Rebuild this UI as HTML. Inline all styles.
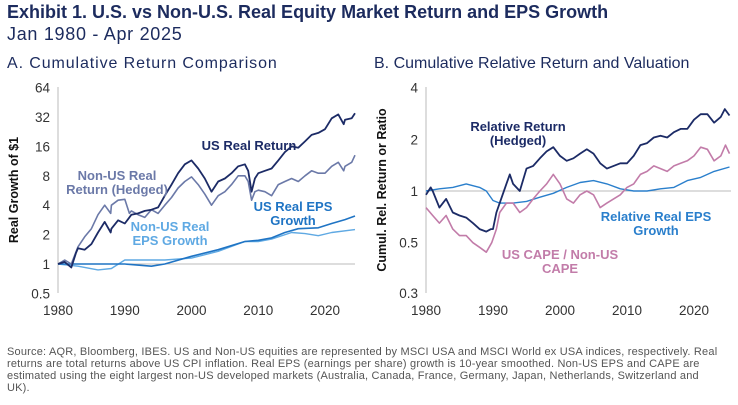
<!DOCTYPE html>
<html><head><meta charset="utf-8"><style>
body{margin:0;width:738px;height:405px;background:#fff;font-family:"Liberation Sans",sans-serif;overflow:hidden;position:relative}
.t{position:absolute;white-space:nowrap}
</style></head><body>
<div class="t" style="left:7px;top:2px;font-size:18px;font-weight:bold;color:#1c2b5e">Exhibit 1. U.S. vs Non-U.S. Real Equity Market Return and EPS Growth</div>
<div class="t" style="left:7px;top:24px;font-size:18px;letter-spacing:0.7px;color:#1c2b5e">Jan 1980 - Apr 2025</div>
<div class="t" style="left:7px;top:55px;font-size:16px;letter-spacing:0.9px;color:#1c2b5e">A. Cumulative Return Comparison</div>
<div class="t" style="left:374px;top:55px;font-size:16px;color:#1c2b5e">B. Cumulative Relative Return and Valuation</div>
<svg id="svg" width="738" height="340" style="position:absolute;left:0;top:0" font-family="Liberation Sans, sans-serif"></svg>
<div class="t" style="left:7px;top:346px;font-size:11px;letter-spacing:0.2px;line-height:12px;color:#555">Source: AQR, Bloomberg, IBES. US and Non-US equities are represented by MSCI USA and MSCI World ex USA indices, respectively. Real<br>returns are total returns above US CPI inflation. Real EPS (earnings per share) growth is 10-year smoothed. Non-US EPS and CAPE are<br>estimated using the eight largest non-US developed markets (Australia, Canada, France, Germany, Japan, Netherlands, Switzerland and<br>UK).</div>
<script>
const xTicks=[1980,1990,2000,2010,2020];
const leftTicks=[0.5,1,2,4,8,16,32,64];
const rightTicks=[0.3,0.5,1,2,4];
const usRetX=[1980,1981,1982,1982.7,1983,1984,1985,1986,1987,1987.9,1988,1989,1990,1991,1992,1993,1994,1995,1996,1997,1998,1999,2000,2001,2002,2003,2004,2005,2006,2007,2008,2008.5,2009,2009.5,2010,2011,2012,2013,2014,2015,2016,2017,2018,2019,2020,2021,2022,2022.8,2023,2024,2024.5];
const usRetY=[1.0,1.05,0.92,1.3,1.45,1.4,1.6,2.1,2.7,2.1,2.3,2.8,2.6,3.2,3.3,3.5,3.6,3.8,5,6.5,8.5,10.5,11.5,9.5,7.5,5.5,7,7.5,8.5,10,10.5,9,5.5,7.5,8.5,9,9.5,11.5,14,16,15.5,18,21,22,24,31,34,27,30,31,35];
const nuRetX=[1980,1981,1982,1983,1984,1985,1986,1987,1987.9,1988,1989,1990,1990.7,1991,1992,1993,1994,1995,1996,1997,1998,1999,2000,2001,2002,2003,2004,2005,2006,2007,2008,2008.5,2009,2009.5,2010,2011,2012,2013,2014,2015,2016,2017,2018,2019,2020,2021,2022,2022.8,2023,2024,2024.5];
const nuRetY=[1.0,1.1,1.0,1.5,1.9,2.3,3.2,4.0,3.3,4.0,4.5,4.6,3.3,3.5,3.2,3.0,3.6,3.3,4.0,4.8,6,7,7.8,6.5,5.2,4.0,5,5.5,6.5,8,8,7,4.5,5.5,5.7,5.5,5,6.5,7,7.5,7,8,9,8.5,8.5,10,11,9,10,11,13];
const usEpsX=[1980,1985,1990,1994,1996,2000,2004,2008,2010,2012,2014,2016,2019,2021,2023,2024.5];
const usEpsY=[1.0,1.0,1.0,0.95,1.0,1.2,1.4,1.7,1.75,1.85,2.1,2.3,2.35,2.6,2.85,3.1];
const nuEpsX=[1980,1983,1986,1988,1990,1993,1996,2000,2004,2008,2010,2012,2015,2017,2019,2021,2024.5];
const nuEpsY=[1.0,0.95,0.87,0.9,1.1,1.1,1.1,1.15,1.35,1.7,1.7,1.8,2.1,2.05,1.95,2.1,2.25];
const relRetX=[1980,1980.7,1981,1982,1983,1984,1985,1986,1987,1988,1989,1989.7,1990,1990.5,1991,1992,1992.5,1993,1994,1995,1996,1997,1998,1999,2000,2001,2002,2003,2004,2005,2006,2007,2008,2009,2010,2011,2012,2013,2014,2015,2016,2017,2018,2019,2020,2021,2022,2023,2024,2024.6,2025.3];
const relRetY=[0.95,1.05,1.0,0.8,0.9,0.75,0.72,0.7,0.65,0.6,0.58,0.6,0.6,0.75,0.85,1.1,1.25,1.1,1.0,1.35,1.4,1.55,1.7,1.8,1.6,1.5,1.55,1.65,1.75,1.65,1.45,1.35,1.4,1.45,1.45,1.6,1.85,1.9,2.05,2.1,2.05,2.2,2.3,2.3,2.6,2.8,2.8,2.5,2.7,3.0,2.75];
const relEpsX=[1980,1982,1984,1986,1988,1989,1990,1991,1993,1995,1997,1999,2001,2003,2005,2007,2009,2011,2013,2015,2017,2019,2021,2023,2025.3];
const relEpsY=[1.0,1.03,1.05,1.1,1.05,1.0,0.88,0.85,0.85,0.87,0.92,0.97,1.05,1.12,1.15,1.1,1.03,1.0,1.0,1.03,1.05,1.15,1.2,1.3,1.38];
const capeX=[1980,1981,1982,1983,1984,1985,1986,1987,1988,1989,1989.8,1990.5,1991,1992,1993,1994,1995,1996,1997,1998,1999,2000,2001,2002,2003,2004,2005,2006,2007,2008,2009,2010,2011,2012,2013,2014,2015,2016,2017,2018,2019,2020,2021,2022,2023,2024,2024.7,2025.3];
const capeY=[0.8,0.72,0.65,0.72,0.6,0.55,0.55,0.5,0.47,0.44,0.5,0.6,0.75,0.85,0.85,0.75,0.8,0.9,1.0,1.1,1.25,1.1,0.9,0.85,0.95,1.0,0.95,0.8,0.85,0.9,0.95,1.05,1.1,1.25,1.3,1.4,1.35,1.3,1.4,1.45,1.5,1.6,1.8,1.75,1.5,1.6,1.85,1.65];

const svg=document.getElementById('svg');const NS='http://www.w3.org/2000/svg';
function mk(tag,attrs,name,txt){const e=document.createElementNS(NS,tag);for(const k in attrs)e.setAttribute(k,attrs[k]);


if(txt!==undefined)e.textContent=txt;svg.appendChild(e);return e;}
const L={x0:58,x1:355,y1:264,pd:29.4,xl:(v)=>58+(v-1980)*6.675};
const R={x0:426,x1:731,y1:191,pd:51.7,xl:(v)=>426+(v-1980)*6.7};
function ly(P,v){return P.y1-Math.log2(v)*P.pd;}
function axes(P,ticks,bottom,panel){
  mk('line',{x1:P.x0,y1:87,x2:P.x0,y2:bottom,stroke:'#bbb','stroke-width':1},panel+'-y-axis');
  mk('line',{x1:P.x0,y1:ly(P,1),x2:P.x1,y2:ly(P,1),stroke:'#bbb','stroke-width':1},panel+'-baseline');
  ticks.forEach(t=>{const y=(P===R&&t===0.3)?bottom:ly(P,t);
    mk('text',{x:P.x0-8,y:y+5,'text-anchor':'end','font-size':13.5,fill:'#333'},panel+'-y-tick-'+t,String(t));});
  xTicks.forEach(t=>{mk('text',{x:P.xl(t),y:bottom+22,'text-anchor':'middle','font-size':13.5,fill:'#333'},panel+'-x-tick-'+t,String(t));});
}
function line(P,xs,ys,color,name,w){let d='';xs.forEach((x,i)=>{d+=(i?'L':'M')+P.xl(x).toFixed(1)+','+ly(P,ys[i]).toFixed(1);});
  mk('path',{d:d,fill:'none',stroke:color,'stroke-width':w||1.6,'stroke-linejoin':'round'},name);}
axes(L,leftTicks,293,'left');axes(R,rightTicks,293,'right');
line(L,nuEpsX,nuEpsY,'#5fa9e3','non-us-eps-line',1.4);
line(L,usEpsX,usEpsY,'#1f74c4','us-eps-line',1.6);
line(L,nuRetX,nuRetY,'#6b79a8','non-us-return-line',1.6);
line(L,usRetX,usRetY,'#1c2b66','us-return-line',1.8);
line(R,relEpsX,relEpsY,'#2a7fcc','relative-eps-line',1.4);
line(R,capeX,capeY,'#c27ca9','cape-ratio-line',1.6);
line(R,relRetX,relRetY,'#1c2b66','relative-return-line',1.8);
function lab(x,y,lines,color,name,anchor){lines.forEach((s,i)=>mk('text',{x:x,y:y+i*14,'text-anchor':anchor||'middle','font-size':13,'font-weight':'bold',fill:color},name+(i?'-2':''),s));}
mk('text',{x:18,y:190,'text-anchor':'middle','font-size':12.5,'font-weight':'bold',fill:'#111',transform:'rotate(-90 18 190)'},'left-y-axis-title','Real Growth of $1');
mk('text',{x:386,y:190,'text-anchor':'middle','font-size':12.5,'font-weight':'bold',fill:'#111',transform:'rotate(-90 386 190)'},'right-y-axis-title','Cumul. Rel. Return or Ratio');
lab(249,150,['US Real Return'],'#1c2b66','us-return-label');
lab(117,180,['Non-US Real','Return (Hedged)'],'#6b79a8','non-us-return-label');
lab(293,211,['US Real EPS','Growth'],'#1f74c4','us-eps-label');
lab(170,231,['Non-US Real','EPS Growth'],'#5fa9e3','non-us-eps-label');
lab(518,131,['Relative Return','(Hedged)'],'#1c2b66','relative-return-label');
lab(656,221,['Relative Real EPS','Growth'],'#2a7fcc','relative-eps-label');
lab(560,259,['US CAPE / Non-US','CAPE'],'#c27ca9','cape-label');
</script>
</body></html>
